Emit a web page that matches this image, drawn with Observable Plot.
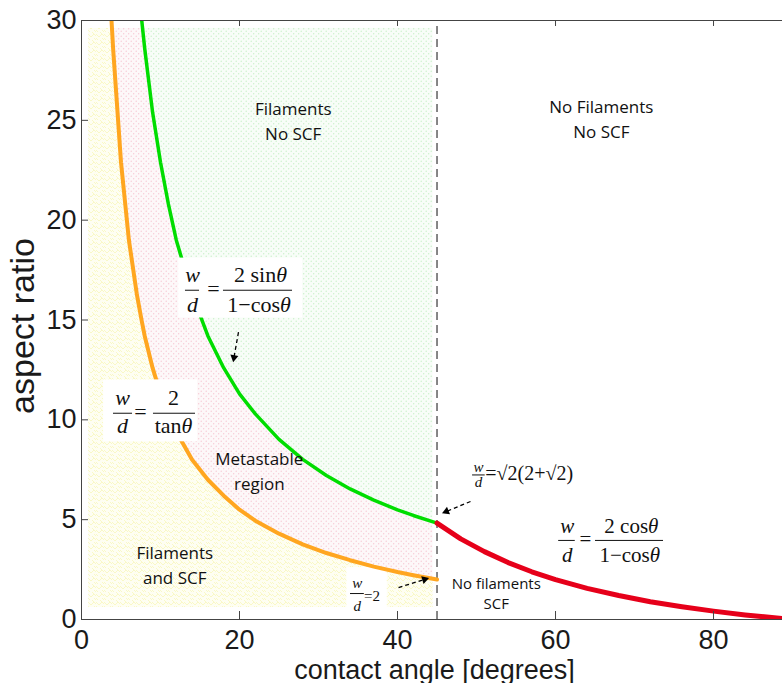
<!DOCTYPE html>
<html><head><meta charset="utf-8">
<script src="https://cdn.jsdelivr.net/npm/d3@7"></script>
<script src="https://cdn.jsdelivr.net/npm/@observablehq/plot@0.6"></script>
<style>body{margin:0;background:#fff;} #chart svg{display:block}</style>
</head><body><div id="chart"></div>
<script>
// ---- data ----
const thetaLeft   = [3.8, 4, 5, 6, 7, 7.6, 8, 9, 10, 11, 12, 14, 16, 18, 20, 22, 25, 28, 31, 34, 37, 40, 42, 45];
// w/d = 2/tanθ (orange)
const orangeRatio = [30.0, 28.6, 22.9, 19.0, 16.3, 15.0, 14.2, 12.6, 11.3, 10.3, 9.4, 8.0, 7.0, 6.2, 5.5, 4.95, 4.3, 3.76, 3.33, 2.97, 2.65, 2.38, 2.22, 2.0];
// w/d = 2 sinθ/(1−cosθ) (green), null above the frame
const greenRatio  = [null, null, null, null, null, 30.1, 28.6, 25.4, 22.9, 20.8, 19.0, 16.3, 14.2, 12.6, 11.3, 10.3, 9.02, 8.02, 7.21, 6.54, 5.98, 5.49, 5.21, 4.83];
const thetaRight  = [45, 48, 51, 54, 57, 60, 64, 68, 72, 76, 80, 84, 88, 90];
// w/d = 2 cosθ/(1−cosθ) (red)
const redRatio    = [4.83, 4.04, 3.40, 2.85, 2.39, 2.0, 1.56, 1.20, 0.89, 0.64, 0.42, 0.23, 0.07, 0];
const xTicks = [0, 20, 40, 60, 80];
const yTicks = [0, 5, 10, 15, 20, 25, 30];
const xLabel = "contact angle [degrees]";
const yLabel = "aspect ratio";
const criticalAngle = 45;

const regionLabels = [
  {x: 26.8, y: 24.0, text: "Filaments\nNo SCF", fs: 17},
  {x: 65.8, y: 24.1, text: "No Filaments\nNo SCF", fs: 17},
  {x: 22.5, y: 6.47, text: "Metastable\nregion", fs: 17},
  {x: 11.8, y: 1.80, text: "Filaments\nand SCF", fs: 17},
  {x: 52.5, y: 0.55, text: "No filaments\nSCF", fs: 15}
];
const mathItalic = [
  {x: 14.05, y: 16.89, t: "w", fs: 22}, {x: 14.05, y: 15.39, t: "d", fs: 22},
  {x: 5.19, y: 10.73, t: "w", fs: 22},  {x: 5.19, y: 9.32, t: "d", fs: 22},
  {x: 50.25, y: 7.40, t: "w", fs: 15},  {x: 50.25, y: 6.62, t: "d", fs: 15},
  {x: 61.5, y: 4.31, t: "w", fs: 21},   {x: 61.5, y: 2.86, t: "d", fs: 21},
  {x: 34.9, y: 1.58, t: "w", fs: 15},   {x: 34.9, y: 0.42, t: "d", fs: 15}
];
const mathRoman = [
  {x: 16.7, y: 16.19, t: "=", fs: 22}, {x: 22.66, y: 16.89, t: "2 sinθ", fs: 22}, {x: 22.47, y: 15.39, t: "1−cosθ", fs: 22},
  {x: 7.47, y: 10.03, t: "=", fs: 22}, {x: 11.65, y: 10.73, t: "2", fs: 22}, {x: 11.65, y: 9.32, t: "tanθ", fs: 22},
  {x: 63.8, y: 3.66, t: "=", fs: 21}, {x: 69.6, y: 4.31, t: "2 cosθ", fs: 21}, {x: 69.4, y: 2.86, t: "1−cosθ", fs: 21}
];
const mathStart = [
  {x: 51.1, y: 6.98, t: "=√2(2+√2)", fs: 20},
  {x: 35.75, y: 0.95, t: "=2", fs: 15}
];
const fracBars = [
  {x1: 13.16, x2: 14.94, y: 16.49}, {x1: 17.97, x2: 26.71, y: 16.49},
  {x1: 4.05, x2: 6.46, y: 10.33},   {x1: 9.11, x2: 14.43, y: 10.33},
  {x1: 49.5, x2: 51.1, y: 7.24},
  {x1: 60.4, x2: 62.5, y: 3.96},    {x1: 65.06, x2: 73.67, y: 3.96},
  {x1: 34.05, x2: 35.8, y: 1.30}
];
const formulaBoxes = [
  {x1: 12.3, x2: 28.0, y1: 15.1, y2: 18.1},
  {x1: 2.8, x2: 14.7, y1: 8.9, y2: 12.0}
];
const smallBox = [{x1: 33.6, x2: 38.7, y1: 0.3, y2: 2.6}];
const arrows = [
  {x1: 19.87, y1: 14.39, x2: 19.3, y2: 13.12, heading: 190},
  {x1: 49.24, y1: 5.91, x2: 46.18, y2: 5.41, heading: 248},
  {x1: 40.13, y1: 1.60, x2: 43.43, y2: 2.01, heading: 73}
];

// ---- tables built from the arrays ----
const TOP = 29.6, RIGHT = 44.5, BOTTOM = 0.6, LEFT = 0.9;
const orangeRows = thetaLeft.map((t, i) => ({x: t, y: orangeRatio[i]}));
const greenRows = thetaLeft.map((t, i) => ({x: t, y: greenRatio[i]})).filter(d => d.y != null);
const redRows = thetaRight.map((t, i) => ({x: t, y: redRatio[i]}));
const yellowRows = [{x: LEFT, y1: BOTTOM, y2: TOP}].concat(
  thetaLeft.map((t, i) => ({x: Math.min(t, RIGHT), y1: BOTTOM, y2: Math.min(orangeRatio[i], TOP)})));
const pinkRows = thetaLeft.map((t, i) => ({x: Math.min(t, RIGHT), y1: Math.min(orangeRatio[i], TOP), y2: Math.min(greenRatio[i] ?? TOP, TOP)}));
const greenAreaRows = greenRows.map(d => ({x: Math.min(d.x, RIGHT), y1: Math.min(d.y, TOP), y2: TOP}));

const serif = "'Liberation Serif', 'Times New Roman', serif";
const sans = "'Open Sans', sans-serif";
const mathMarks = [];
for (const [fs, rows] of d3.groups(mathItalic, d => d.fs))
  mathMarks.push(Plot.text(rows, {x: "x", y: "y", text: "t", fontSize: fs, fontStyle: "italic", fontFamily: serif, lineAnchor: "bottom", fill: "#111"}));
for (const [fs, rows] of d3.groups(mathRoman, d => d.fs))
  mathMarks.push(Plot.text(rows, {x: "x", y: "y", text: "t", fontSize: fs, fontFamily: serif, lineAnchor: "bottom", fill: "#111"}));
for (const [fs, rows] of d3.groups(mathStart, d => d.fs))
  mathMarks.push(Plot.text(rows, {x: "x", y: "y", text: "t", fontSize: fs, fontFamily: serif, lineAnchor: "bottom", textAnchor: "start", fill: "#111"}));
const labelMarks = [];
for (const [fs, rows] of d3.groups(regionLabels, d => d.fs))
  labelMarks.push(Plot.text(rows, {x: "x", y: "y", text: "text", fontSize: fs, fontFamily: sans, lineAnchor: "bottom", lineHeight: fs === 17 ? 1.47 : 1.33, fill: "#111"}));

const axisColor = "#444";
const regionOpts = {x: "x", y1: "y1", y2: "y2"};
const plot = Plot.plot({
  width: 782, height: 683,
  marginLeft: 81, marginRight: 0, marginTop: 20, marginBottom: 64,
  x: {domain: [0, 88.73], axis: null},
  y: {domain: [0, 30], axis: null},
  style: {fontFamily: "'Liberation Sans', Arial, sans-serif", background: "#fff", color: "#1a1a1a"},
  marks: [
    // solid tints (base)
    Plot.areaY(yellowRows, {...regionOpts, fill: "#fefef2"}),
    Plot.areaY(pinkRows, {...regionOpts, fill: "#fdf8f9"}),
    Plot.areaY(greenAreaRows, {...regionOpts, fill: "#f8fdf8"}),
    // texture layers (fill replaced by patterns below)
    Plot.areaY(yellowRows, {...regionOpts, fill: "none"}),
    Plot.areaY(pinkRows, {...regionOpts, fill: "none"}),
    Plot.areaY(greenAreaRows, {...regionOpts, fill: "none"}),
    Plot.rect(smallBox, {x1: "x1", x2: "x2", y1: "y1", y2: "y2", fill: "white"}),
    Plot.ruleX([criticalAngle], {y1: 0, y2: 30, stroke: "#6a6a6a", strokeWidth: 1.6, strokeDasharray: "8,5"}),
    Plot.line(orangeRows, {x: "x", y: "y", stroke: "#ffa620", strokeWidth: 4, clip: true}),
    Plot.line(greenRows, {x: "x", y: "y", stroke: "#00dd00", strokeWidth: 3.5, clip: true}),
    Plot.line(redRows, {x: "x", y: "y", stroke: "#e6001a", strokeWidth: 5, clip: true}),
    Plot.rect(formulaBoxes, {x1: "x1", x2: "x2", y1: "y1", y2: "y2", fill: "white"}),
    Plot.ruleY(fracBars, {x1: "x1", x2: "x2", y: "y", stroke: "#111", strokeWidth: 1}),
    ...mathMarks,
    ...labelMarks,
    Plot.link(arrows, {x1: "x1", y1: "y1", x2: "x2", y2: "y2", stroke: "#000", strokeWidth: 1.3, strokeDasharray: "4,3"}),
    Plot.dot(arrows, {x: "x2", y: "y2", symbol: "triangle", r: 3, fill: "#000", stroke: "none", rotate: "heading"}),
    // axes
    Plot.ruleX([0], {y1: 0, y2: 30, stroke: axisColor}),
    Plot.ruleY([0], {x1: 0, x2: 88.73, stroke: axisColor}),
    Plot.ruleY([30], {x1: 0, x2: 88.73, stroke: axisColor}),
    Plot.ruleY(yTicks, {x1: 0, x2: 0.89, stroke: axisColor}),
    Plot.ruleX(xTicks, {y1: 0, y2: 0.4, stroke: axisColor}),
    Plot.ruleX(xTicks, {y1: 30, y2: 29.7, stroke: axisColor}),
    Plot.axisY(yTicks, {tickSize: 0, tickPadding: 5, fontSize: 27, label: null, color: "#1a1a1a"}),
    Plot.axisX(xTicks, {tickSize: 0, tickPadding: 10, fontSize: 27, label: null, color: "#1a1a1a"}),
    Plot.text([xLabel], {text: d => d, frameAnchor: "bottom", dx: 2.5, dy: 59, fontSize: 27, lineAnchor: "bottom", fill: "#1a1a1a"}),
    Plot.text([yLabel], {text: d => d, frameAnchor: "left", textAnchor: "middle", rotate: -90, dx: -48, dy: 6, fontSize: 34, lineAnchor: "bottom", fill: "#1a1a1a"})
  ]
});

try {
  // textures for the three regions, built element by element
  const svg = d3.select(plot);
  const defs = svg.insert("defs", ":first-child");
  const dotPattern = (id, dot) => {
    const p = defs.append("pattern").attr("id", id).attr("width", 5).attr("height", 5).attr("patternUnits", "userSpaceOnUse");
    p.append("circle").attr("cx", 1.2).attr("cy", 1.2).attr("r", 0.7).attr("fill", dot);
    p.append("circle").attr("cx", 3.7).attr("cy", 3.7).attr("r", 0.7).attr("fill", dot);
  };
  const py = defs.append("pattern").attr("id", "patY").attr("width", 8).attr("height", 8).attr("patternUnits", "userSpaceOnUse");
  py.append("path").attr("d", "M0,2 L3,5 L6,2 L8,4 M0,6 L2,8 M6,6 L8,8 M4,0 L6,2").attr("stroke", "#f8f6bc").attr("stroke-width", 0.8).attr("fill", "none");
  dotPattern("patP", "#f5cad4");
  dotPattern("patG", "#c9f0c9");
  const areaGroups = plot.querySelectorAll('g[aria-label="area"]');
  const ids = [null, null, null, "patY", "patP", "patG"];
  areaGroups.forEach((g, i) => {
    if (!ids[i]) return;
    g.setAttribute("fill", `url(#${ids[i]})`);
    g.querySelectorAll("path").forEach(p => p.setAttribute("fill", `url(#${ids[i]})`));
  });
} catch (e) { console.error(e); }

// italic theta inside formulas
const ns = "http://www.w3.org/2000/svg";
plot.querySelectorAll("text").forEach(el => {
  if (el.children.length === 0 && el.textContent.includes("θ")) {
    const s = el.textContent; el.textContent = "";
    s.split(/(θ)/).forEach(part => {
      if (!part) return;
      const ts = document.createElementNS(ns, "tspan");
      if (part === "θ") ts.setAttribute("font-style", "italic");
      ts.textContent = part;
      el.appendChild(ts);
    });
  }
});
document.getElementById("chart").appendChild(plot);
</script>
</body></html>
